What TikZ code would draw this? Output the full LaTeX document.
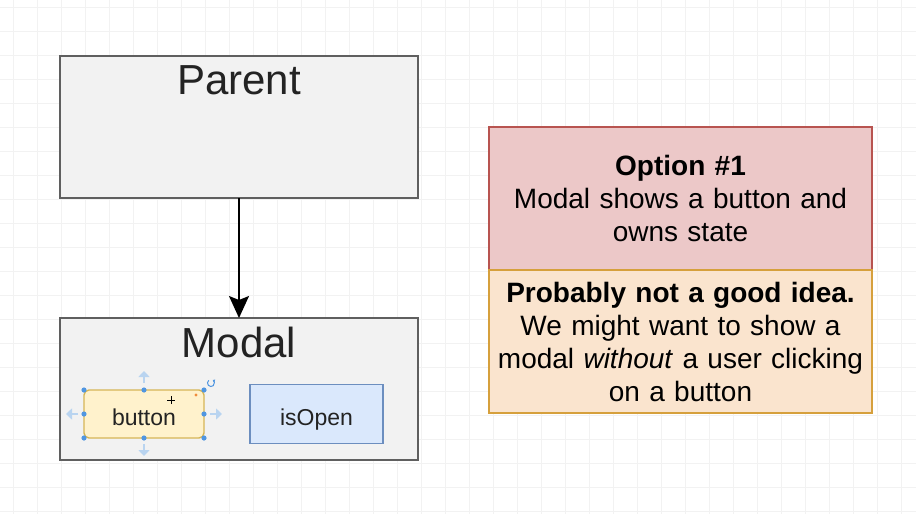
\documentclass[tikz,border=0pt]{standalone}
\usepackage{fontspec}
\setmainfont{Liberation Sans}
\usetikzlibrary{arrows.meta, positioning}
\definecolor{boxgray}{RGB}{242,242,242}
\definecolor{framegray}{RGB}{95,95,95}
\definecolor{inkgray}{RGB}{35,35,35}
\definecolor{gridgray}{RGB}{242,242,242}
\definecolor{buttonfill}{RGB}{255,242,204}
\definecolor{buttonline}{RGB}{214,182,86}
\definecolor{statefill}{RGB}{218,232,252}
\definecolor{stateline}{RGB}{108,142,191}
\definecolor{optionfill}{RGB}{236,200,200}
\definecolor{optionline}{RGB}{184,84,80}
\definecolor{verdictfill}{RGB}{250,228,206}
\definecolor{verdictline}{RGB}{214,160,60}
\definecolor{handleblue}{RGB}{80,150,225}
\definecolor{gripblue}{RGB}{185,212,240}
\definecolor{markorange}{RGB}{240,140,60}

\begin{document}
\begin{tikzpicture}[
    x=1pt, y=1pt,
    node distance=120pt,
    container/.style={rectangle, draw=framegray, fill=boxgray, line width=1.6pt,
                      minimum width=358pt, minimum height=142pt, inner sep=0pt, outer sep=0pt},
    title/.style={font=\fontsize{42}{50}\selectfont, text=inkgray},
    field/.style={rectangle, line width=1.4pt, outer sep=0pt, text=inkgray,
                  text height=22pt, text depth=0pt, font=\fontsize{23}{28}\selectfont},
    note/.style={rectangle, line width=1.4pt, minimum width=383pt, minimum height=143pt,
                 text width=380pt, inner sep=0pt, outer sep=0pt, align=center,
                 font=\fontsize{28}{33}\selectfont},
    arrow/.style={-{Stealth[length=22pt, width=20pt, inset=4pt]}, line width=1.6pt, black},
    handle/.style={fill=handleblue},
    grip/.style={-{Triangle[length=6pt, width=11pt]}, line width=2.8pt, gripblue},
    gridline/.style={draw=gridgray, line width=0.6pt}
]
\useasboundingbox (0,0) rectangle (916,-514);
\fill[white] (0,0) rectangle (916,-514);

% background grid
\foreach \gx in {13,37,...,901} \draw[gridline] (\gx,0) -- (\gx,-514);
\foreach \gy in {7,31,...,511} \draw[gridline] (0,-\gy) -- (916,-\gy);

% components
\node[container] (parent) at (239,-127) {};
\node[title] (parenttitle) at ([yshift=-24pt]parent.north) {Parent};
\node[container, below=of parent] (modal) {};
\node[title] (modaltitle) at ([yshift=-24pt]modal.north) {Modal};

\node[field, rounded corners=5pt, fill=buttonfill, draw=buttonline,
      minimum width=120pt, minimum height=48pt] (button) at (144,-414) {button};
\node[field, fill=statefill, draw=stateline, minimum width=133pt, minimum height=59pt,
      right=46pt of button] (isopen) {isOpen};

\draw[arrow] (parent) -- (modal);

% selection handles
\foreach \a in {north west, north, north east, west, east, south west, south, south east}
    \fill[handle] (button.\a) circle (2.6pt);
\draw[grip] ([yshift=7pt]button.north) -- ++(0,12);
\draw[grip] ([yshift=-6pt]button.south) -- ++(0,-12);
\draw[grip] ([xshift=-6pt]button.west) -- ++(-12,0);
\draw[grip] ([xshift=6pt]button.east) -- ++(12,0);
\coordinate (rotor) at (211,-383);
\draw[handleblue, line width=1pt, -{Triangle[length=2pt, width=3pt]}]
    ([shift={(130:3.5pt)}]rotor) arc (130:420:3.5pt);
\fill[markorange] (196,-395) circle (1.6pt);
\coordinate (cursor) at (171,-400);
\draw[black, line width=0.9pt] ([xshift=-4pt]cursor) -- ([xshift=4pt]cursor);
\draw[black, line width=0.9pt] ([yshift=-4pt]cursor) -- ([yshift=4pt]cursor);

% options
\node[note, fill=optionfill, draw=optionline] (option) at (680.5,-198.5)
    {\textbf{Option \#1}\\Modal shows a button and\\owns state};
\node[note, fill=verdictfill, draw=verdictline, below=0pt of option] (verdict)
    {\textbf{Probably not a good idea.}\\We might want to show a\\modal \textit{without} a user clicking\\on a button};

\end{tikzpicture}
\end{document}
